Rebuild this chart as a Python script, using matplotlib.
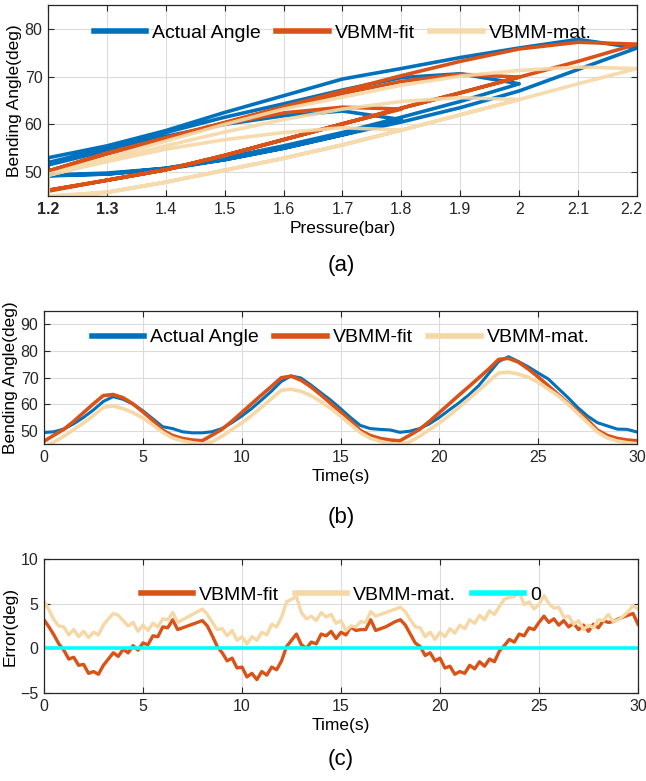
import numpy as np
import matplotlib

matplotlib.use("Agg")
import matplotlib.pyplot as plt
from matplotlib.transforms import ScaledTranslation

plt.rcParams["font.family"] = ["Liberation Sans", "DejaVu Sans"]

# colours (MATLAB default-ish)
C_ACT = "#0072BD"
C_FIT = "#D95319"
C_MAT = "#F5D8A6"
C_ZERO = "#00FFFF"

# ---- time series sampled every 0.5 s (panels a and b) ----
time_s = np.arange(0, 30.01, 0.5)

pressure_bar = [
    1.2, 1.3, 1.4, 1.5, 1.6, 1.7, 1.8,
    1.7, 1.6, 1.5, 1.4, 1.3, 1.2,
    1.2, 1.2, 1.2, 1.2,
    1.3, 1.4, 1.5, 1.6, 1.7, 1.8, 1.9, 2.0,
    1.9, 1.8, 1.7, 1.6, 1.5, 1.4, 1.3, 1.2,
    1.2, 1.2, 1.2, 1.2,
    1.3, 1.4, 1.5, 1.6, 1.7, 1.8, 1.9, 2.0, 2.1, 2.2,
    2.1, 2.0, 1.9, 1.8, 1.7, 1.6, 1.5, 1.4, 1.3, 1.2,
    1.2, 1.2, 1.2, 1.2,
]

actual_angle = [
    49.3, 49.6, 50.6, 52.6, 55.0, 57.8, 61.0,
    62.8, 61.8, 60.0, 57.5, 54.5, 51.5,
    50.8, 49.6, 49.2, 49.2,
    49.6, 50.8, 53.0, 55.5, 58.3, 61.5, 64.8, 68.5,
    70.6, 69.8, 67.2, 64.3, 61.5, 58.3, 55.0, 52.0,
    50.8, 50.5, 50.3, 49.4,
    49.8, 50.8, 52.6, 55.0, 57.8, 60.5, 63.5, 67.0, 71.5, 76.0,
    77.8, 76.0, 74.0, 71.7, 69.5, 66.0, 62.5, 58.7, 55.5, 53.0,
    51.8, 50.6, 50.5, 49.5,
]

vbmm_fit = [
    46.0, 48.3, 50.5, 53.5, 56.8, 60.1, 63.2,
    63.6, 62.4, 60.1, 57.1, 53.9, 50.2,
    48.2, 47.1, 46.5, 46.2,
    48.3, 50.5, 53.5, 56.8, 60.1, 63.4, 66.6, 69.9,
    70.5, 69.0, 66.5, 63.5, 60.3, 57.1, 53.8, 50.1,
    48.2, 47.1, 46.5, 46.2,
    48.3, 50.5, 53.5, 56.8, 60.1, 63.4, 66.6, 69.9, 73.2, 76.8,
    77.2, 75.8, 73.2, 70.2, 67.0, 63.7, 60.4, 57.2, 54.0, 50.2,
    48.2, 47.1, 46.5, 46.2,
]

vbmm_mat = [
    43.8, 45.7, 47.9, 50.4, 52.9, 55.7, 58.8,
    59.3, 58.3, 56.8, 54.8, 52.2, 49.4,
    47.3, 46.2, 45.5, 45.0,
    45.8, 47.9, 50.4, 52.9, 55.7, 58.8, 62.0, 65.2,
    65.6, 64.8, 63.2, 61.0, 58.4, 55.5, 52.4, 49.3,
    47.2, 46.0, 45.2, 44.8,
    45.8, 47.9, 50.4, 52.9, 55.7, 58.8, 62.0, 65.2, 68.5, 71.7,
    72.0, 71.3, 70.1, 68.2, 65.7, 63.2, 60.0, 56.5, 53.0, 49.5,
    47.3, 46.1, 45.5, 45.1,
]

# ---- error series sampled every 0.25 s (panel c) ----
err_time_s = np.arange(0, 30.01, 0.25)

err_fit = [
    3.2, 2.4, 1.5, 0.5, -0.2, -1.2, -1.0, -1.9, -1.8, -2.8,
    -2.6, -2.9, -1.9, -1.2, -0.5, -0.9, -0.1, -0.5, 0.3, -0.2,
    0.6, 0.4, 1.4, 1.3, 2.4, 2.3, 3.2, 2.1, 2.3, 2.5,
    2.7, 2.9, 3.1, 2.5, 1.4, 0.2, -0.5, -1.4, -1.1, -2.2,
    -2.1, -3.2, -2.8, -3.5, -2.6, -3.0, -2.1, -2.4, -1.4, 0.2,
    0.9, 1.6, 0.4, 0.0, 0.7, 0.5, 1.6, 1.4, 1.9, 1.1,
    1.8, 1.5, 2.4, 2.0, 2.1, 2.1, 3.2, 2.0, 2.2, 2.4,
    2.7, 3.0, 3.2, 2.6, 1.6, 0.6, 0.2, -0.8, -0.5, -1.4,
    -1.1, -2.2, -2.0, -2.9, -2.6, -2.8, -1.9, -2.3, -1.5, -2.0,
    -1.2, -1.5, -0.3, 0.3, 1.0, 0.7, 1.6, 1.4, 2.3, 2.1,
    2.9, 3.6, 2.9, 3.3, 2.6, 3.1, 2.4, 2.8, 2.1, 2.6,
    1.9, 2.7, 2.3, 3.1, 2.9, 3.0, 3.3, 3.5, 3.7, 3.9,
    2.7,
]

err_mat = [
    5.3, 4.3, 3.2, 2.5, 2.4, 1.5, 2.1, 1.3, 1.9, 1.2,
    1.8, 1.5, 2.6, 3.3, 3.9, 3.7, 3.1, 2.5, 2.9, 1.9,
    2.6, 2.0, 2.8, 2.4, 3.3, 3.2, 4.0, 2.9, 3.2, 3.5,
    3.8, 4.1, 4.4, 3.8, 2.9, 2.1, 2.2, 1.4, 2.0, 0.9,
    1.3, 0.5, 1.3, 0.9, 1.8, 1.5, 2.7, 2.4, 3.5, 5.2,
    5.5, 5.8, 4.0, 3.3, 3.6, 3.1, 4.0, 3.5, 3.8, 2.8,
    3.1, 2.0, 2.5, 2.4, 3.0, 2.9, 4.1, 3.6, 3.8, 4.0,
    4.2, 4.4, 4.6, 4.1, 3.2, 2.4, 2.3, 1.3, 1.8, 1.0,
    1.8, 1.3, 2.2, 1.7, 2.6, 2.2, 3.2, 2.8, 3.7, 3.2,
    4.2, 3.8, 4.7, 5.5, 5.7, 5.8, 6.3, 4.9, 5.2, 4.4,
    4.9, 5.9, 5.0, 4.5, 4.6, 3.5, 3.6, 2.7, 3.1, 2.1,
    2.6, 2.3, 3.2, 3.1, 3.8, 3.0, 3.2, 3.6, 4.1, 4.8,
    4.4,
]

pressure_ticks = [1.2, 1.3, 1.4, 1.5, 1.6, 1.7, 1.8, 1.9, 2.0, 2.1, 2.2]
pressure_ticklabels = ["1.2", "1.3", "1.4", "1.5", "1.6", "1.7", "1.8", "1.9", "2", "2.1", "2.2"]

W, H = 646, 781


def style_axes(ax):
    ax.grid(True, color="#dcdcdc", linewidth=0.8)
    ax.set_axisbelow(True)
    ax.tick_params(direction="in", length=4, labelsize=11.5, colors="#262626", pad=4,
                   top=True, right=True)
    for s in ax.spines.values():
        s.set_color("#262626")
        s.set_linewidth(0.9)


def legend_top(ax, y):
    leg = ax.legend(loc="center", bbox_to_anchor=(0.5, y), ncol=3, frameon=False,
                    fontsize=14, handlelength=2.7, columnspacing=0.8,
                    handletextpad=0.3, borderaxespad=0)
    for h in leg.get_lines():
        h.set_linewidth(4)
    return leg


fig = plt.figure(figsize=(W / 100, H / 100), dpi=100)

# panel (a)
ax1 = fig.add_axes([48 / W, (H - 196) / H, 589 / W, 191 / H])
ax1.plot(pressure_bar, actual_angle, color=C_ACT, lw=2.6, label="Actual Angle")
ax1.plot(pressure_bar, vbmm_fit, color=C_FIT, lw=2.6, label="VBMM-fit")
ax1.plot(pressure_bar, vbmm_mat, color=C_MAT, lw=2.6, alpha=0.9, label="VBMM-mat.")
ax1.set_xlim(1.2, 2.2)
ax1.set_ylim(45, 85)
ax1.set_yticks([50, 60, 70, 80])
ax1.set_xticks(pressure_ticks)
ax1.set_xticklabels(pressure_ticklabels)
ax1.set_xlabel("Pressure(bar)", fontsize=12.5, labelpad=3)
ax1.set_ylabel("Bending Angle(deg)", fontsize=12.5, labelpad=2)
style_axes(ax1)
xlabs = ax1.get_xticklabels()
for lab in xlabs[:2]:
    lab.set_fontweight("bold")
# keep the last label inside the figure edge
xlabs[-1].set_transform(xlabs[-1].get_transform()
                        + ScaledTranslation(-6 / 100, 0, fig.dpi_scale_trans))
legend_top(ax1, 0.855)

# panel (b)
ax2 = fig.add_axes([44 / W, (H - 444) / H, 593 / W, 133 / H])
ax2.plot(time_s, actual_angle, color=C_ACT, lw=2.2, label="Actual Angle")
ax2.plot(time_s, vbmm_fit, color=C_FIT, lw=2.6, label="VBMM-fit")
ax2.plot(time_s, vbmm_mat, color=C_MAT, lw=2.6, label="VBMM-mat.")
ax2.set_xlim(0, 30)
ax2.set_ylim(45, 95)
ax2.set_yticks([50, 60, 70, 80, 90])
ax2.set_xticks([0, 5, 10, 15, 20, 25, 30])
ax2.set_xlabel("Time(s)", fontsize=12.5, labelpad=3)
ax2.set_ylabel("Bending Angle(deg)", fontsize=12.5, labelpad=2)
style_axes(ax2)
legend_top(ax2, 0.8)

# panel (c)
ax3 = fig.add_axes([44 / W, (H - 693) / H, 594 / W, 134 / H])
ax3.plot(err_time_s, err_fit, color=C_FIT, lw=2.4, label="VBMM-fit")
ax3.plot(err_time_s, err_mat, color=C_MAT, lw=2.4, label="VBMM-mat.")
ax3.axhline(0, color=C_ZERO, lw=2.6, label="0")
ax3.set_xlim(0, 30)
ax3.set_ylim(-5, 10)
ax3.set_yticks([-5, 0, 5, 10])
ax3.set_xticks([0, 5, 10, 15, 20, 25, 30])
ax3.set_xlabel("Time(s)", fontsize=12.5, labelpad=3)
ax3.set_ylabel("Error(deg)", fontsize=12.5, labelpad=2)
style_axes(ax3)
legend_top(ax3, 0.73)

# sub-figure captions
for txt, ypx in [("(a)", 265), ("(b)", 518), ("(c)", 760)]:
    fig.text(341 / W, 1 - ypx / H, txt, ha="center", va="center", fontsize=16)

fig.savefig("out.png", dpi=100)
